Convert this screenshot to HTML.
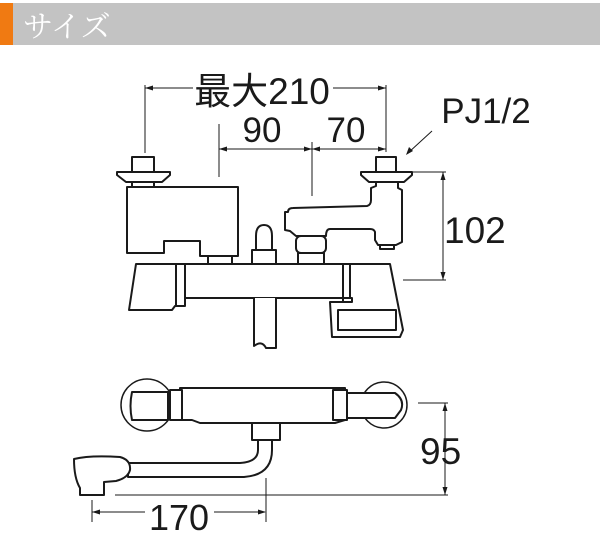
<!DOCTYPE html>
<html><head><meta charset="utf-8"><style>
html,body{margin:0;padding:0;background:#fff;}
svg{display:block;}
</style></head><body>
<svg width="600" height="544" viewBox="0 0 600 544" xmlns="http://www.w3.org/2000/svg">
<rect x="0" y="3" width="600" height="42" fill="#c3c3c3"/>
<rect x="0" y="3" width="13" height="42" fill="#f07a12"/>
<text x="23" y="37" font-family="'Liberation Serif','Noto Serif CJK SC',serif" font-size="30" fill="#fff">サイズ</text>

<g font-family="'Liberation Sans','Noto Sans CJK JP',sans-serif" fill="#1a1a1a">
<text x="262" y="104" font-size="37" text-anchor="middle">最大210</text>
<text x="262" y="142" font-size="35" text-anchor="middle">90</text>
<text x="346" y="142" font-size="35" text-anchor="middle">70</text>
<text x="486" y="123" font-size="35" text-anchor="middle">PJ1/2</text>
<text x="444" y="243" font-size="37">102</text>
<text x="420" y="464" font-size="37">95</text>
<text x="179" y="530" font-size="36" text-anchor="middle">170</text>
</g>

<g stroke="#1a1a1a" stroke-width="1" fill="none">
<line x1="145" y1="88" x2="193" y2="88"/><line x1="333" y1="88" x2="386" y2="88"/>
<line x1="145" y1="85" x2="145" y2="153"/><line x1="386" y1="85" x2="386" y2="152"/>
<line x1="219" y1="149" x2="386" y2="149"/>
<line x1="219" y1="124" x2="219" y2="177"/><line x1="312" y1="142" x2="312" y2="196"/>
<line x1="432" y1="131" x2="408" y2="153"/>
<line x1="412" y1="172" x2="446" y2="172"/><line x1="403" y1="280" x2="446" y2="280"/>
<line x1="443" y1="172" x2="443" y2="280"/>
<line x1="418" y1="403" x2="448" y2="403"/><line x1="115" y1="495" x2="448" y2="495"/>
<line x1="445" y1="403" x2="445" y2="495"/>
<line x1="92" y1="512" x2="145" y2="512"/><line x1="214" y1="512" x2="265" y2="512"/>
<line x1="92" y1="500" x2="92" y2="522"/><line x1="266" y1="478" x2="266" y2="522"/>
</g>
<g fill="#1a1a1a">
<path d="M145,88 l8,-2.5 v5z"/><path d="M386,88 l-8,-2.5 v5z"/>
<path d="M219,149 l8,-2.5 v5z"/><path d="M312,149 l-8,-2.5 v5z"/><path d="M312,149 l8,-2.5 v5z"/><path d="M386,149 l-8,-2.5 v5z"/>
<path d="M406,155 l3,-8 l4,4z"/>
<path d="M443,172 l-2.5,8 h5z"/><path d="M443,280 l-2.5,-8 h5z"/>
<path d="M445,403 l-2.5,8 h5z"/><path d="M445,495 l-2.5,-8 h5z"/>
<path d="M92,512 l8,-2.5 v5z"/><path d="M266,512 l-8,-2.5 v5z"/>
</g>

<g stroke="#1a1a1a" stroke-width="2" fill="#fff" stroke-linejoin="round">
<rect x="132" y="157" width="22" height="15"/>
<path d="M117,172 L170,172 L170,175 L162,182 L126,182 L117,175Z"/>
<rect x="132" y="182" width="22" height="5"/>
<path d="M127,187 L238,187 L238,256 L200,256 L200,241 L164,241 L164,253 L127,253Z"/>
<rect x="208" y="256" width="24" height="8"/>
<path d="M136,264 L390,264 L403,330 L400,337 L332,337 L330,302 L352,302 L352,298 L185,298 L185,306 L175,306 L172,310 L129,310Z"/>
<line x1="176" y1="264" x2="176" y2="306"/><line x1="185" y1="264" x2="185" y2="298"/>
<line x1="343" y1="264" x2="343" y2="302"/><line x1="350" y1="264" x2="350" y2="298"/>
<rect x="338" y="310" width="58" height="20"/>
<path d="M254,298 L254,346 Q262,340 266,348 L276,348 L276,298"/>
<rect x="252" y="250" width="24" height="14"/>
<path d="M256,250 L256,236 Q256,225 264,225 Q272,225 272,236 L272,250Z"/>
<rect x="376" y="157" width="20" height="15"/>
<path d="M361,172 L412,172 L412,175 L404,182 L369,182 L361,175Z"/>
<path d="M288,212 Q288,208 293,208 L367,206 Q371,205 371,200 L371,188 L376,186 L376,182 L398,182 L398,188 L402,190 L402,242 L396,245 L378,245 L375,240 L375,232 Q374,229 370,229 L330,229 Q326,229 326,236 L296,236 L290,231 L285,230 L285,212Z"/>
<rect x="380" y="245" width="14" height="4"/>
<rect x="296" y="236" width="30" height="17" rx="5"/>
<rect x="298" y="253" width="26" height="11"/>

<circle cx="147" cy="405" r="26" stroke-width="1.5"/>
<circle cx="384" cy="405" r="23" stroke-width="1.5"/>
<path d="M180,388 L345,388 L345,420 L335,423 L200,423 L192,420 L180,420Z"/>
<path d="M132,392 L168,392 L168,420 L132,420 Q129,406 132,392Z"/>
<path d="M340,393 L395,393 Q405,400 401,410 L395,418 L340,418Z"/>
<rect x="170" y="390" width="12" height="30"/>
<rect x="333" y="390" width="14" height="30"/>
<rect x="252" y="423" width="28" height="17"/>
<path d="M258,440 L258,450 Q258,462 240,463 L128,463 L128,477 L244,477 Q272,475 272,450 L272,440Z"/>
<path d="M74,459 Q90,455 120,457 Q131,460 130,470 Q128,478 116,481 L104,482 L104,495 L80,495 L80,488 Q74,478 74,459Z"/>
</g>
</svg>
</body></html>
